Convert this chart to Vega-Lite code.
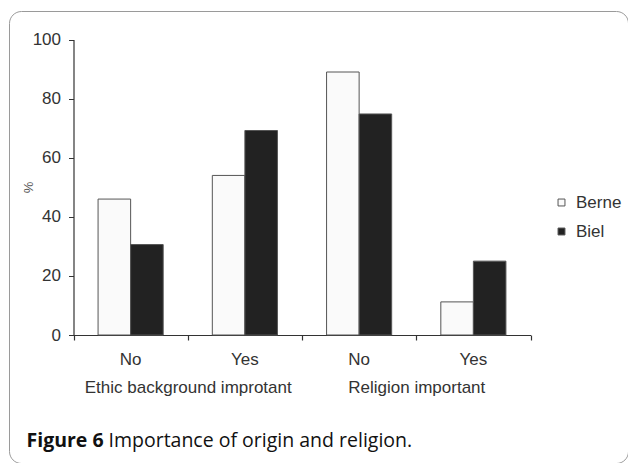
{
  "$schema": "https://vega.github.io/schema/vega-lite/v6.json",
  "width": 619,
  "height": 452,
  "autosize": {"type": "none"},
  "padding": {"left": 9, "top": 11, "right": 0, "bottom": 0},
  "background": "white",
  "config": {
    "view": {"stroke": "#9a9a9a", "strokeWidth": 1, "cornerRadius": 12},
    "font": "Liberation Sans",
    "axis": {"labelFont": "Liberation Sans", "titleFont": "Liberation Sans", "grid": false}
  },
  "layer": [
    {
      "data": {"values": [
        {"cat": "Ethic|No", "site": "Berne", "pct": 46},
        {"cat": "Ethic|No", "site": "Biel", "pct": 30.6},
        {"cat": "Ethic|Yes", "site": "Berne", "pct": 54},
        {"cat": "Ethic|Yes", "site": "Biel", "pct": 69.2},
        {"cat": "Religion|No", "site": "Berne", "pct": 89},
        {"cat": "Religion|No", "site": "Biel", "pct": 74.8},
        {"cat": "Religion|Yes", "site": "Berne", "pct": 11.2},
        {"cat": "Religion|Yes", "site": "Biel", "pct": 25}
      ]},
      "mark": {"type": "bar", "stroke": "#555", "strokeWidth": 1},
      "encoding": {
        "x": {
          "field": "cat", "type": "nominal", "sort": null,
          "scale": {"range": [64.5, 521.5], "paddingInner": 0.43, "paddingOuter": 0.215},
          "axis": {
            "orient": "bottom", "offset": -128, "title": null,
            "ticks": false, "tickSize": 0, "domainColor": "#333", "domainWidth": 1.2,
            "labelExpr": "split(datum.label, '|')[1]",
            "labelAngle": 0, "labelFontSize": 17, "labelColor": "#333", "labelPadding": 16
          }
        },
        "xOffset": {"field": "site", "type": "nominal", "scale": {"paddingInner": 0}},
        "y": {
          "field": "pct", "type": "quantitative",
          "scale": {"domain": [0, 100], "nice": false, "range": [324, 28.5]},
          "axis": {
            "orient": "left", "offset": -64.5, "values": [0, 20, 40, 60, 80, 100],
            "tickSize": 5, "tickColor": "#333", "domainColor": "#333", "domainWidth": 1.2,
            "labelFontSize": 17, "labelColor": "#333", "labelPadding": 8,
            "title": "%", "titleFontSize": 13, "titleFontWeight": "normal", "titleColor": "#555",
            "titleX": -45.5, "titleY": 176, "titleAngle": 270, "titleAlign": "center", "titleBaseline": "middle"
          }
        },
        "color": {
          "field": "site", "type": "nominal",
          "scale": {"domain": ["Berne", "Biel"], "range": ["#fafafa", "#222222"]},
          "legend": {
            "title": null, "orient": "none", "legendX": 544, "legendY": 183,
            "padding": 0, "symbolType": "square", "symbolSize": 48,
            "symbolStrokeColor": "#555", "symbolStrokeWidth": 1,
            "labelFontSize": 17, "labelColor": "#333", "labelOffset": 6, "rowPadding": 11
          }
        }
      }
    },
    {
      "data": {"values": [
        {"group": "Ethic background improtant"},
        {"group": "Religion important"}
      ]},
      "mark": {"type": "text"},
      "encoding": {
        "x": {
          "field": "group", "type": "nominal", "sort": null,
          "scale": {"range": [64.5, 521.5], "paddingInner": 0, "paddingOuter": 0},
          "axis": {
            "orient": "bottom", "offset": -128, "domain": false, "ticks": false, "tickSize": 0,
            "labelAngle": 0, "labelFontSize": 17, "labelColor": "#333", "labelPadding": 44, "labelLimit": 0,
            "title": "Figure 6", "titleFont": "Open Sans", "titleFontSize": 19.5, "titleFontWeight": "bold",
            "titleColor": "#111", "titleX": 17, "titleY": 105, "titleAlign": "left", "titleBaseline": "middle", "titleAngle": 0
          }
        },
        "text": {"value": ""}
      }
    },
    {
      "data": {"values": [{}]},
      "mark": {"type": "rule", "opacity": 0},
      "encoding": {
        "x": {
          "datum": 0, "type": "quantitative",
          "scale": {"domain": [0, 4], "nice": false, "range": [64.5, 521.5]},
          "axis": {
            "orient": "bottom", "offset": -128, "domain": false, "labels": false,
            "values": [0, 1, 2, 3, 4], "tickSize": 5, "tickColor": "#333", "tickWidth": 1.2,
            "title": "Importance of origin and religion.", "titleFont": "Open Sans", "titleFontSize": 19.5,
            "titleFontWeight": "normal", "titleColor": "#111", "titleX": 99, "titleY": 105,
            "titleAlign": "left", "titleBaseline": "middle", "titleAngle": 0, "titleLimit": 0
          }
        }
      }
    }
  ],
  "resolve": {"scale": {"x": "independent"}}
}
